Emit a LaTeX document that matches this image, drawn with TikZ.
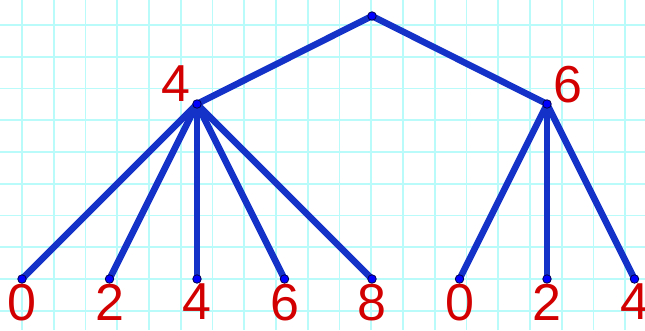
\documentclass[tikz,border=0pt]{standalone}
\usepackage{fontspec}
\setmainfont{Liberation Sans}
\usetikzlibrary{positioning}

\definecolor{gridcyan}{RGB}{185,250,250}
\definecolor{edgeblue}{RGB}{20,50,200}
\definecolor{numred}{RGB}{210,0,0}

\begin{document}
\begin{tikzpicture}[x=1pt,y=-1pt]
\tikzstyle{vertex} = [circle, inner sep=0pt, minimum size=8.5pt, draw=black!70!blue, fill=blue, line width=0.8pt]
\tikzstyle{edge} = [edgeblue, line width=6.5pt]
\tikzstyle{num} = [numred, font=\fontsize{52}{60}\selectfont, inner sep=0pt]

\useasboundingbox (0,0) rectangle (645,330);
% grid paper
\foreach \i in {0,...,19}
  \draw[gridcyan, line width=1.6pt] (22+31.75*\i,0) -- (22+31.75*\i,330);
\foreach \j in {0,...,9}
  \draw[gridcyan, line width=1.6pt] (0,25+31.75*\j) -- (645,25+31.75*\j);

\coordinate (root) at (372,16);
\coordinate (n4) at (197,104);
\coordinate (n6) at (547,104);
\foreach \x [count=\k] in {22,109.5,197,284.5,372,459.5,547,634.5}
  \coordinate (leaf\k) at (\x,279);

\draw [edge] (root) -- (n4);
\draw [edge] (root) -- (n6);
\foreach \k in {1,...,5}
  \draw [edge] (n4) -- (leaf\k);
\foreach \k in {6,7,8}
  \draw [edge] (n6) -- (leaf\k);

\foreach \p in {root,n4,n6,leaf1,leaf2,leaf3,leaf4,leaf5,leaf6,leaf7,leaf8}
  \node[vertex] at (\p) {};

\node (l4) [num] at (176,84) {4};
\node (l6) [num] at (568,85) {6};
\foreach \t [count=\k] in {0,2,4,6,8,0,2,4}
  \node (lab\k) [num, below=5pt of leaf\k] {\t};

\end{tikzpicture}
\end{document}
